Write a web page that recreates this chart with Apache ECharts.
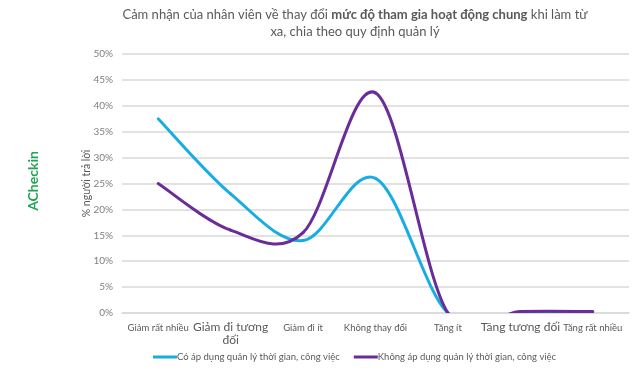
<!DOCTYPE html>
<html>
<head>
<meta charset="utf-8">
<script src="https://cdn.jsdelivr.net/npm/echarts@6/dist/echarts.min.js"></script>
<style>
    html, body { margin: 0; padding: 0; background: #fff; }
    #chart { width: 640px; height: 375px; }
</style>
</head>
<body>
<div id="chart"></div>
<script>
    // danh mục trục x
    const categories = ['Giảm rất nhiều', 'Giảm đi tương\nđối', 'Giảm đi ít', 'Không thay đổi', 'Tăng ít', 'Tăng tương đối', 'Tăng rất nhiều']
    // nhãn in to hơn (giống ảnh gốc)
    const bigLabels = ['Giảm đi tương\nđối', 'Tăng tương đối']
    const seriesNames = ['Có áp dụng quản lý thời gian, công việc', 'Không áp dụng quản lý thời gian, công việc']
    const coApDung = [37.5, 23, 14, 26, 0, 0, 0]
    const khongApDung = [25, 16, 15.5, 42.5, 0, 0.3, 0.3]
    const yTicks = [0, 5, 10, 15, 20, 25, 30, 35, 40, 45, 50]

    const colors = ['#17ade4', '#6a2c99']

    // đường cong kiểu Excel (Catmull-Rom), vẽ từng đoạn i -> i+1 qua api.coord
    function smoothSegment(values, color) {
        return function (params, api) {
            const i = params.dataIndex
            if (i >= values.length - 1) return null
            const idx = [i - 1, i, i + 1, i + 2].map(k => Math.min(Math.max(k, 0), values.length - 1))
            const p = idx.map(k => api.coord([k, values[k]]))
            const p0 = p[0], p1 = p[1], p2 = p[2], p3 = p[3]
            return {
                type: 'bezierCurve',
                shape: {
                    x1: p1[0], y1: p1[1],
                    x2: p2[0], y2: p2[1],
                    cpx1: p1[0] + (p2[0] - p0[0]) / 6,
                    cpy1: p1[1] + (p2[1] - p0[1]) / 6,
                    cpx2: p2[0] - (p3[0] - p1[0]) / 6,
                    cpy2: p2[1] - (p3[1] - p1[1]) / 6
                },
                style: { stroke: color, lineWidth: 3, fill: null, lineCap: 'round' }
            }
        }
    }

    const chart = echarts.init(document.getElementById('chart'))
    const option = {
        textStyle: { fontFamily: 'Lato, Open Sans, sans-serif' },
        color: colors,
        title: {
            text: '{n|Cảm nhận của nhân viên về thay đổi }{b|mức độ tham gia hoạt động chung}{n| khi làm từ}\n{n|xa, chia theo quy định quản lý}',
            left: 350,
            textAlign: 'center',
            top: 1,
            textStyle: {
                fontWeight: 'normal',
                rich: {
                    n: { fontSize: 13, color: '#595959', fontWeight: 'normal', lineHeight: 17 },
                    b: { fontSize: 13, color: '#595959', fontWeight: 'bold', lineHeight: 17 }
                }
            }
        },
        graphic: [{
            type: 'text',
            x: 33,
            y: 181,
            rotation: Math.PI / 2,
            style: {
                text: 'ACheckin',
                fill: '#22a455',
                font: 'bold 14px Lato, sans-serif',
                align: 'center',
                verticalAlign: 'middle'
            }
        }],
        legend: {
            data: seriesNames,
            bottom: 8,
            left: 148,
            itemGap: 14,
            itemWidth: 24,
            itemHeight: 3,
            icon: 'rect',
            textStyle: { color: '#595959', fontSize: 9.5, padding: [0, 0, 0, -5] }
        },
        grid: {
            left: 122,
            right: 11,
            top: 54,
            bottom: 62
        },
        xAxis: {
            type: 'category',
            data: categories,
            boundaryGap: true,
            axisLine: { lineStyle: { color: '#d9d9d9', width: 1.5 } },
            axisTick: { show: false },
            axisLabel: {
                interval: 0,
                margin: 8,
                color: '#595959',
                fontSize: 9.5,
                lineHeight: 13,
                formatter: function (v) {
                    return bigLabels.indexOf(v) >= 0 ? '{big|' + v.replace('\n', '}\n{big|') + '}' : v
                },
                rich: {
                    big: { fontSize: 12, color: '#595959', lineHeight: 13 }
                }
            }
        },
        yAxis: {
            type: 'value',
            min: yTicks[0],
            max: yTicks[yTicks.length - 1],
            interval: 5,
            name: '% người trả lời',
            nameLocation: 'middle',
            nameGap: 30,
            nameMoveOverlap: false,
            nameTextStyle: { color: '#595959', fontSize: 10.5 },
            axisLine: { show: false },
            axisTick: { show: false },
            axisLabel: { formatter: '{value}%', color: '#7f7f7f', fontSize: 10, margin: 9 },
            splitLine: { lineStyle: { color: '#d9d9d9', width: 1.5 } }
        },
        series: [
            {
                name: seriesNames[0],
                type: 'custom',
                clip: true,
                itemStyle: { color: colors[0] },
                renderItem: smoothSegment(coApDung, colors[0]),
                data: coApDung.map((v, i) => [i, v])
            },
            {
                name: seriesNames[1],
                type: 'custom',
                clip: true,
                itemStyle: { color: colors[1] },
                renderItem: smoothSegment(khongApDung, colors[1]),
                data: khongApDung.map((v, i) => [i, v])
            }
        ]
    }
    chart.setOption(option)
</script>
</body>
</html>
